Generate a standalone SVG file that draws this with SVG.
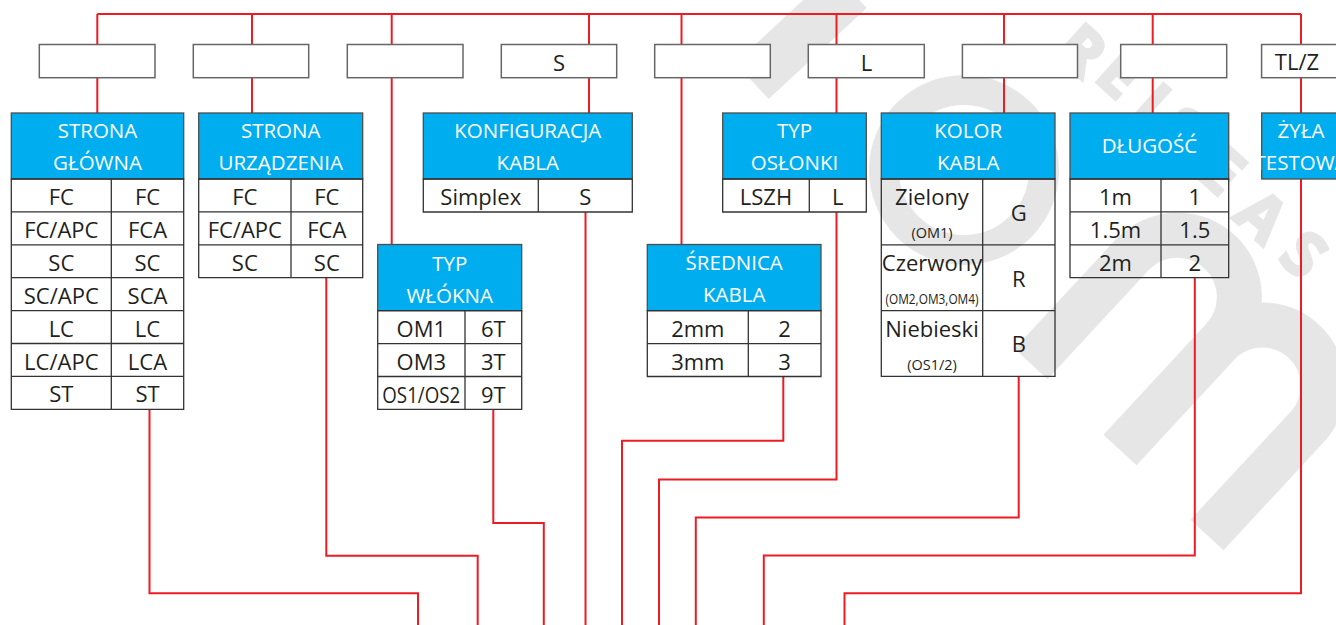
<svg xmlns="http://www.w3.org/2000/svg" width="1336" height="625" viewBox="0 0 1336 625">
<defs>
<style>
.hdr{fill:#00aeef;stroke:#4d4d4d;stroke-width:1.3}
.cell{fill:none;stroke:#333;stroke-width:1.3}
.box{fill:#fff;stroke:#666;stroke-width:1.5}
.wire{fill:none;stroke:#ed1c24;stroke-width:2}
.ht{font-family:"Open Sans","Noto Sans",sans-serif;font-size:20.5px;fill:#fff;text-anchor:middle}
.bt{font-family:"Open Sans","Noto Sans",sans-serif;font-size:22px;fill:#231f20;text-anchor:middle}
.st{font-size:14.5px}
.wm{fill:none;stroke:#e6e6e6}
</style>
</defs>
<rect width="1336" height="625" fill="#fff"/>
<g id="watermark">
<circle class="wm" cx="964" cy="170" r="80" stroke-width="30"/>
<path class="wm" stroke-width="49" d="M752 81L850 -10"/>
<path class="wm" stroke-width="45" d="M1031 364L1133 254A61 61 0 0 1 1222 340"/>
<path class="wm" stroke-width="45" d="M1120 450L1222 340A61 61 0 0 1 1309 425L1207 535"/>
<g font-family="'Open Sans','DejaVu Sans',sans-serif" font-size="62" font-weight="bold" fill="#e6e6e6" stroke="#e6e6e6" stroke-width="3" text-anchor="middle">
<text x="0" y="22" transform="translate(1082,50) rotate(42)">R</text>
<text x="0" y="22" transform="translate(1120,74) rotate(42)">E</text>
<text x="0" y="22" transform="translate(1152,103) rotate(42)">I</text>
<text x="0" y="22" transform="translate(1182,130) rotate(42)">S</text>
<text x="0" y="22" transform="translate(1222,170) rotate(42)">E</text>
<text x="0" y="22" transform="translate(1262,216) rotate(42)">A</text>
<text x="0" y="22" transform="translate(1304,254) rotate(42)">S</text>
</g>
</g>
<g id="connectors">
<path class="wire" d="M97.3 14H1301"/>
<path class="wire" d="M97.3 14V113"/>
<path class="wire" d="M252 14V113"/>
<path class="wire" d="M391.7 14V244.5"/>
<path class="wire" d="M589 14V113"/>
<path class="wire" d="M681.5 14V244.5"/>
<path class="wire" d="M836.5 14V113"/>
<path class="wire" d="M1004 14V113"/>
<path class="wire" d="M1152.7 14V113"/>
<path class="wire" d="M1301 14V113"/>
<path class="wire" d="M149.5 409.3V593.3H418V625"/>
<path class="wire" d="M326.3 277.7V555.7H477.7V625"/>
<path class="wire" d="M493.3 409.4V523H543.8V625"/>
<path class="wire" d="M585.5 212V625"/>
<path class="wire" d="M783.3 376.5V440.7H622V625"/>
<path class="wire" d="M836.5 212V479.5H659V625"/>
<path class="wire" d="M1018.7 376.4V517.5H695.8V625"/>
<path class="wire" d="M1194.8 277.7V555.5H763.8V625"/>
<path class="wire" d="M1301 179V593.3H844.5V625"/>
</g>
<g id="code-boxes">
<rect id="code1" class="box" x="39.3" y="44.5" width="115.7" height="33.2"/>
<rect id="code2" class="box" x="193.3" y="44.5" width="115.4" height="33.2"/>
<rect id="code3" class="box" x="347.3" y="44.5" width="115.7" height="33.2"/>
<g id="code4"><rect class="box" x="501.3" y="44.5" width="115.4" height="33.2"/><text class="bt" x="559" y="71">S</text></g>
<rect id="code5" class="box" x="654.7" y="44.5" width="115.6" height="33.2"/>
<g id="code6"><rect class="box" x="808.3" y="44.5" width="116" height="33.2"/><text class="bt" x="866.5" y="71">L</text></g>
<rect id="code7" class="box" x="962.4" y="44.5" width="115.1" height="33.2"/>
<rect id="code8" class="box" x="1120.7" y="44.5" width="106" height="33.2"/>
<g id="code9"><rect class="box" x="1261.6" y="44.5" width="100" height="33.2"/><text class="bt" x="1297" y="70">TL/Z</text></g>
</g>
<g id="strona-glowna">
<rect class="hdr" x="11.3" y="113" width="172.4" height="66"/>
<text class="ht" x="97.5" y="137.5">STRONA</text>
<text class="ht" x="97.5" y="170">GŁÓWNA</text>
<path class="cell" d="M11.3 179H183.7V409.3H11.3ZM11.3 211.9H183.7M11.3 244.8H183.7M11.3 277.7H183.7M11.3 310.6H183.7M11.3 343.5H183.7M11.3 376.4H183.7M111.3 179V409.3"/>
<text class="bt" x="61.3" y="205">FC</text><text class="bt" x="147.5" y="205">FC</text>
<text class="bt" x="61.3" y="237.9">FC/APC</text><text class="bt" x="147.5" y="237.9">FCA</text>
<text class="bt" x="61.3" y="270.8">SC</text><text class="bt" x="147.5" y="270.8">SC</text>
<text class="bt" x="61.3" y="303.7">SC/APC</text><text class="bt" x="147.5" y="303.7">SCA</text>
<text class="bt" x="61.3" y="336.6">LC</text><text class="bt" x="147.5" y="336.6">LC</text>
<text class="bt" x="61.3" y="369.5">LC/APC</text><text class="bt" x="147.5" y="369.5">LCA</text>
<text class="bt" x="61.3" y="402.4">ST</text><text class="bt" x="147.5" y="402.4">ST</text>
</g>
<g id="strona-urzadzenia">
<rect class="hdr" x="198.7" y="113" width="164" height="66"/>
<text class="ht" x="280.7" y="137.5">STRONA</text>
<text class="ht" x="280.7" y="170">URZĄDZENIA</text>
<path class="cell" d="M198.7 179H362.7V277.7H198.7ZM198.7 211.9H362.7M198.7 244.8H362.7M291 179V277.7"/>
<text class="bt" x="244.8" y="205">FC</text><text class="bt" x="326.8" y="205">FC</text>
<text class="bt" x="244.8" y="237.9">FC/APC</text><text class="bt" x="326.8" y="237.9">FCA</text>
<text class="bt" x="244.8" y="270.8">SC</text><text class="bt" x="326.8" y="270.8">SC</text>
</g>
<g id="typ-wlokna">
<rect class="hdr" x="377.7" y="244.5" width="144" height="66.2"/>
<text class="ht" x="449.7" y="270.5">TYP</text>
<text class="ht" x="449.7" y="303">WŁÓKNA</text>
<path class="cell" d="M377.7 310.7H521.7V409.4H377.7ZM377.7 343.6H521.7M377.7 376.5H521.7M465 310.7V409.4"/>
<text class="bt" x="421.3" y="336.7">OM1</text><text class="bt" x="493.3" y="336.7">6T</text>
<text class="bt" x="421.3" y="369.6">OM3</text><text class="bt" x="493.3" y="369.6">3T</text>
<text class="bt" x="421.3" y="402.5" textLength="78" lengthAdjust="spacingAndGlyphs">OS1/OS2</text><text class="bt" x="493.3" y="402.5">9T</text>
</g>
<g id="konfiguracja-kabla">
<rect class="hdr" x="423.3" y="113" width="209" height="66"/>
<text class="ht" x="527.8" y="137.5">KONFIGURACJA</text>
<text class="ht" x="527.8" y="170">KABLA</text>
<path class="cell" d="M423.3 179H632.3V212H423.3ZM538.3 179V212"/>
<text class="bt" x="480.8" y="205">Simplex</text><text class="bt" x="585.3" y="205">S</text>
</g>
<g id="srednica-kabla">
<rect class="hdr" x="647.3" y="244.5" width="173.7" height="66.2"/>
<text class="ht" x="734.2" y="270">ŚREDNICA</text>
<text class="ht" x="734.2" y="301.5">KABLA</text>
<path class="cell" d="M647.3 310.7H821V376.5H647.3ZM647.3 343.6H821M748.3 310.7V376.5"/>
<text class="bt" x="697.8" y="336.7">2mm</text><text class="bt" x="784.6" y="336.7">2</text>
<text class="bt" x="697.8" y="369.6">3mm</text><text class="bt" x="784.6" y="369.6">3</text>
</g>
<g id="typ-oslonki">
<rect class="hdr" x="722.7" y="113" width="143.6" height="66"/>
<text class="ht" x="794.5" y="137.5">TYP</text>
<text class="ht" x="794.5" y="170">OSŁONKI</text>
<path class="cell" d="M722.7 179H866.3V212H722.7ZM809.3 179V212"/>
<text class="bt" x="766" y="205">LSZH</text><text class="bt" x="837.8" y="205">L</text>
</g>
<g id="kolor-kabla">
<rect class="hdr" x="881.3" y="113" width="173.7" height="66"/>
<text class="ht" x="968.2" y="137.5">KOLOR</text>
<text class="ht" x="968.2" y="170">KABLA</text>
<path class="cell" d="M881.3 179H1055V376.4H881.3ZM881.3 244.8H1055M881.3 310.6H1055M982.7 179V376.4"/>
<text class="bt" x="932" y="205">Zielony</text><text class="bt st" x="932" y="238">(OM1)</text>
<text class="bt" x="932" y="271">Czerwony</text><text class="bt st" x="932" y="303.5" textLength="93" lengthAdjust="spacingAndGlyphs">(OM2,OM3,OM4)</text>
<text class="bt" x="932" y="337">Niebieski</text><text class="bt st" x="932" y="369.5">(OS1/2)</text>
<text class="bt" x="1018.8" y="220.5">G</text>
<text class="bt" x="1018.8" y="286.5">R</text>
<text class="bt" x="1018.8" y="352">B</text>
</g>
<g id="dlugosc">
<rect class="hdr" x="1070" y="113" width="158.7" height="66"/>
<text class="ht" x="1149.4" y="153">DŁUGOŚĆ</text>
<path class="cell" d="M1070 179H1228.7V277.7H1070ZM1070 211.9H1228.7M1070 244.8H1228.7M1161 179V277.7"/>
<text class="bt" x="1115.5" y="205">1m</text><text class="bt" x="1194.8" y="205">1</text>
<text class="bt" x="1115.5" y="237.9">1.5m</text><text class="bt" x="1194.8" y="237.9">1.5</text>
<text class="bt" x="1115.5" y="270.8">2m</text><text class="bt" x="1194.8" y="270.8">2</text>
</g>
<g id="zyla-testowa">
<rect class="hdr" x="1261.7" y="113" width="80" height="66"/>
<text class="ht" x="1301" y="137.5">ŻYŁA</text>
<text class="ht" x="1301" y="170">TESTOWA</text>
</g>
</svg>
